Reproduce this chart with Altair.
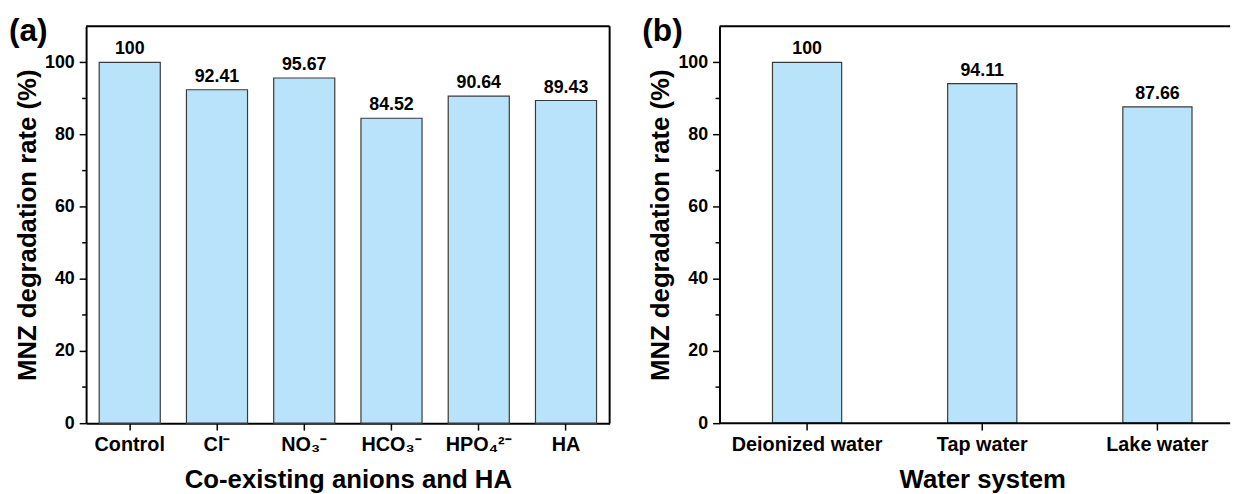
import altair as alt
import pandas as pd

# ---- data ----
cat_a = ["Control", "Cl⁻", "NO₃⁻", "HCO₃⁻", "HPO₄²⁻", "HA"]
val_a = [100, 92.41, 95.67, 84.52, 90.64, 89.43]
cat_b = ["Deionized water", "Tap water", "Lake water"]
val_b = [100, 94.11, 87.66]
y_ticks = [0, 20, 40, 60, 80, 100]
y_minor = [10, 30, 50, 70, 90]

FONT = "Liberation Sans"
FILL = "#B9E3FB"
EDGE = "#3a3a3a"

df_a = pd.DataFrame({"cat": cat_a, "v": val_a})
df_b = pd.DataFrame({"cat": cat_b, "v": val_b})
df_minor = pd.DataFrame({"m": y_minor})
df_one = pd.DataFrame({"k": [0]})

H = 401

AX = dict(labelFont=FONT, titleFont=FONT, titleFontSize=26,
          labelFontWeight="bold", titleFontWeight="bold", labelColor="black",
          titleColor="black", domainColor="black", tickColor="black", grid=False)


def panel(df, cats, xtitle, letter, width, xscale, draw_right, xdomain):
    ysc = alt.Scale(domain=[0, 110], nice=False)
    yax = alt.Axis(values=y_ticks, title="MNZ degradation rate (%)",
                   tickSize=7, tickWidth=1.5, labelPadding=5, titlePadding=4,
                   labelFontSize=18, domainWidth=2, **AX)
    xax = alt.Axis(labelAngle=0, title=xtitle, tickSize=7, tickWidth=1.5,
                   labelPadding=5, titlePadding=12, domain=xdomain,
                   labelFontSize=20, domainWidth=2, **AX)
    base = alt.Chart(df)
    bars = base.mark_bar(fill=FILL, stroke=EDGE, strokeWidth=1.2).encode(
        x=alt.X("cat:N", sort=cats, scale=xscale, axis=xax),
        y=alt.Y("v:Q", scale=ysc, axis=yax),
    )
    labels = base.mark_text(baseline="bottom", dy=-4, font=FONT, fontSize=18,
                            fontWeight="bold", color="black").encode(
        x=alt.X("cat:N", sort=cats, scale=xscale),
        y=alt.Y("v:Q", scale=ysc),
        text=alt.Text("v:N"),
    )
    minor = alt.Chart(df_minor).mark_rule(color="black", strokeWidth=1.5).encode(
        y=alt.Y("m:Q", scale=ysc), x=alt.value(-4), x2=alt.value(0)
    )
    top = alt.Chart(df_one).mark_rule(color="black", strokeWidth=2).encode(
        x=alt.value(0), x2=alt.value(width), y=alt.value(0)
    )
    layers = [bars, labels, minor, top]
    if draw_right:
        right = alt.Chart(df_one).mark_rule(color="black", strokeWidth=2).encode(
            x=alt.value(width), y=alt.value(0), y2=alt.value(H)
        )
        layers.append(right)
    if not xdomain:
        bottom = alt.Chart(df_one).mark_rule(color="black", strokeWidth=2).encode(
            x=alt.value(0), x2=alt.value(width), y=alt.value(H)
        )
        layers.append(bottom)
    tag = alt.Chart(df_one).mark_text(align="left", baseline="top", font=FONT,
                                       fontSize=32, fontWeight="bold", color="black").encode(
        x=alt.value(-78), y=alt.value(-10), text=alt.value(letter)
    )
    layers.append(tag)
    return alt.layer(*layers).properties(width=width, height=H)


pa = panel(df_a, cat_a, "Co-existing anions and HA", "(a)", 529,
           alt.Scale(paddingInner=0.3, paddingOuter=0.15), True, True)
pb = panel(df_b, cat_b, "Water system", "(b)", 516,
           alt.Scale(range=[0, 531], paddingInner=0.605, paddingOuter=0.3025), False, False)

chart = alt.hconcat(pa, pb, spacing=32).properties(
    padding={"left": 9, "top": 13, "right": 0, "bottom": 0},
    background="white",
).configure_view(stroke=None)

chart.save("out.html", embed_options={"renderer": "svg", "actions": False})
